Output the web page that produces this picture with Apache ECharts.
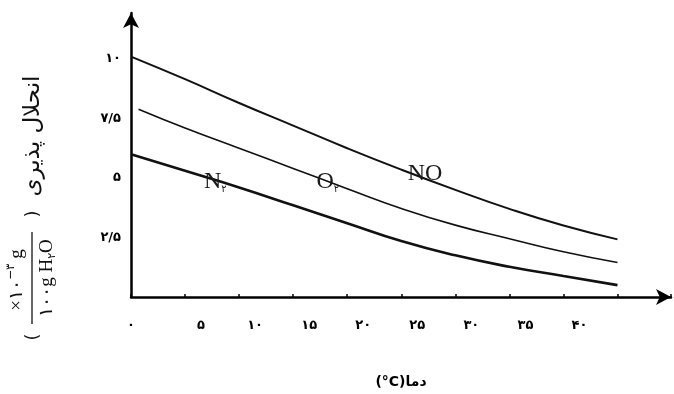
<!DOCTYPE html>
<html>
<head>
<meta charset="utf-8">
<script src="https://cdn.jsdelivr.net/npm/echarts@6/dist/echarts.min.js"></script>
<style>
html,body{margin:0;padding:0;background:#fff;}
#chart{width:674px;height:394px;}
</style>
</head>
<body>
<div id="chart"></div>
<script>
// ---- data ----
const temps = [0, 5, 10, 15, 20, 25, 30, 35, 40, 45];
const o2Temps = [0.7, 5, 10, 15, 20, 25, 30, 35, 40, 45];
const noValues = [10.1, 9.15, 8.15, 7.2, 6.25, 5.35, 4.5, 3.7, 3.0, 2.42];
const o2Values = [7.89, 7.1, 6.25, 5.4, 4.55, 3.72, 3.02, 2.45, 1.9, 1.45];
const n2Values = [6.0, 5.3, 4.6, 3.85, 3.1, 2.35, 1.75, 1.27, 0.88, 0.5];
const xTickValues = [0, 5, 10, 15, 20, 25, 30, 35, 40];
const xTickLabels = ['۰', '۵', '۱۰', '۱۵', '۲۰', '۲۵', '۳۰', '۳۵', '۴۰'];
const yTickValues = [2.5, 5, 7.5, 10];
const yTickLabels = ['۲/۵', '۵', '۷/۵', '۱۰'];
const seriesNames = ['NO', 'O₂', 'N₂'];

const chart = echarts.init(document.getElementById('chart'), null, {renderer: 'canvas'});
const INK = '#111';
const SERIF = '"Liberation Serif", "DejaVu Serif", serif';
const digitFont = '"DejaVu Sans", sans-serif';

function pairs(xs, ys) { return xs.map((t, i) => [t, ys[i]]); }

function curveLabel(text, sub, coord) {
  return {
    symbol: 'circle', symbolSize: 0, silent: true,
    data: [{coord: coord}],
    label: {
      show: true, position: 'inside',
      formatter: sub ? text + '{s|' + sub + '}' : text,
      color: '#1a1a1a', fontFamily: SERIF, fontSize: 24,
      rich: {s: {fontFamily: digitFont, fontSize: 10, color: '#1a1a1a', padding: [14, 0, 0, 0]}}
    }
  };
}

const centered = {textAlign: 'center', align: 'center', textVerticalAlign: 'middle', verticalAlign: 'middle'};

const option = {
  animation: false,
  backgroundColor: '#ffffff',
  grid: {left: 131, right: 1, top: 13, bottom: 97, containLabel: false},
  xAxis: {
    type: 'value', min: 0, max: 49.95, interval: 5,
    axisLine: {show: true, lineStyle: {color: '#000', width: 2.5}, symbol: ['none', 'arrow'], symbolSize: [12, 15]},
    axisTick: {show: true, inside: true, length: 3, lineStyle: {color: '#000', width: 1.5}},
    splitLine: {show: false},
    axisLabel: {
      margin: 22,
      formatter: function (v) {
        const i = xTickValues.indexOf(Math.round(v * 100) / 100);
        if (i < 0) return '';
        return i === 0 ? '{z|' + xTickLabels[i] + '}' : '{n|' + xTickLabels[i] + '}';
      },
      rich: {
        z: {fontFamily: digitFont, fontWeight: 'bold', fontSize: 13, color: '#000'},
        n: {fontFamily: digitFont, fontWeight: 'bold', fontSize: 13, color: '#000', padding: [0, 0, 0, 32]}
      }
    },
    name: '(°C)دما',
    nameLocation: 'middle',
    nameGap: 78,
    nameTextStyle: {fontFamily: digitFont, fontWeight: 'bold', fontSize: 14, color: '#000'}
  },
  yAxis: {
    type: 'value', min: 0, max: 11.93, interval: 2.5,
    axisLine: {show: true, lineStyle: {color: '#000', width: 2.5}, symbol: ['none', 'arrow'], symbolSize: [12, 15]},
    axisTick: {show: false},
    splitLine: {show: false},
    axisLabel: {
      margin: 10,
      fontFamily: digitFont, fontWeight: 'bold', fontSize: 13, color: '#000',
      formatter: function (v) {
        const i = yTickValues.indexOf(Math.round(v * 100) / 100);
        return i < 0 ? '' : yTickLabels[i];
      }
    }
  },
  graphic: [{
    type: 'group', x: 33, y: 280, rotation: Math.PI / 2, silent: true,
    children: [
      {type: 'text', x: 144, y: 0, style: Object.assign({text: 'انحلال پذیری', font: '23px "DejaVu Sans"', fill: INK}, centered)},
      {type: 'text', x: 66, y: 0, style: Object.assign({text: ')', font: '18px "DejaVu Sans"', fill: INK}, centered)},
      {type: 'text', x: -57, y: 0, style: Object.assign({text: '(', font: '18px "DejaVu Sans"', fill: INK}, centered)},
      {type: 'line', shape: {x1: -44, y1: -1, x2: 48, y2: -1}, style: {stroke: '#333', lineWidth: 1.5}},
      {type: 'text', x: 0, y: -16, style: Object.assign({
        text: '×۱۰{sup|−۳} g', font: '19px ' + SERIF, fill: INK,
        rich: {sup: {fontSize: 12, fontFamily: digitFont, fill: INK, color: INK, padding: [0, 0, 12, 0]}}
      }, centered)},
      {type: 'text', x: 2, y: 14, style: Object.assign({
        text: '۱۰۰g H{sub|۲}O', font: '19px ' + SERIF, fill: INK,
        rich: {sub: {fontSize: 11, fontFamily: digitFont, fill: INK, color: INK, padding: [10, 0, 0, 0]}}
      }, centered)}
    ]
  }],
  series: [
    {
      type: 'line', name: seriesNames[0], data: pairs(temps, noValues),
      showSymbol: false, smooth: 0.5, z: 3,
      lineStyle: {color: INK, width: 2},
      markPoint: curveLabel('NO', '', [27.2, 5.17])
    },
    {
      type: 'line', name: seriesNames[1], data: pairs(o2Temps, o2Values),
      showSymbol: false, smooth: 0.5, z: 3,
      lineStyle: {color: INK, width: 1.6},
      markPoint: curveLabel('O', '۲', [18.2, 4.83])
    },
    {
      type: 'line', name: seriesNames[2], data: pairs(temps, n2Values),
      showSymbol: false, smooth: 0.5, z: 3,
      lineStyle: {color: INK, width: 2.6},
      markPoint: curveLabel('N', '۲', [7.8, 4.83])
    }
  ]
};
chart.setOption(option);
</script>
</body>
</html>
